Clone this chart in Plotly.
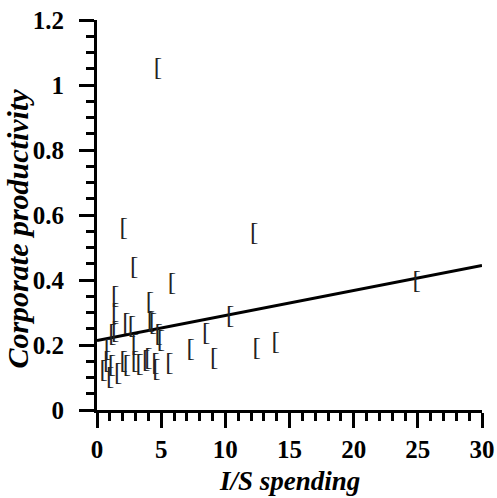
import plotly.graph_objects as go

# I/S spending vs corporate productivity
spending = [0.52, 0.8, 0.85, 1.03, 1.17, 1.2, 1.42, 1.42, 1.42, 1.65,
            2.07, 2.07, 2.3, 2.33, 2.72, 2.9, 2.95, 2.95, 3.32, 3.84,
            4.0, 4.12, 4.2, 4.36, 4.55, 4.62, 4.75, 4.8, 4.98, 5.65,
            5.84, 7.3, 8.5, 9.13, 10.37, 12.24, 12.45, 13.93, 24.9]
productivity = [0.12, 0.15, 0.185, 0.098, 0.135, 0.233, 0.349, 0.297, 0.24, 0.112,
                0.559, 0.149, 0.264, 0.135, 0.257, 0.437, 0.2, 0.148, 0.139, 0.152,
                0.157, 0.33, 0.272, 0.266, 0.143, 0.124, 1.051, 0.233, 0.214, 0.141,
                0.387, 0.184, 0.235, 0.158, 0.288, 0.543, 0.19, 0.208, 0.395]

# fitted line end points
fit_x = [0, 30]
fit_y = [0.214, 0.445]

serif = "Liberation Serif, Times New Roman, serif"

fig = go.Figure()
fig.add_trace(go.Scatter(
    x=fit_x, y=fit_y, mode="lines",
    line={"color": "black", "width": 3},
    showlegend=False, hoverinfo="skip"))
fig.add_trace(go.Scatter(
    x=spending, y=productivity, mode="text",
    text=["["] * len(spending),
    textposition="middle center",
    textfont={"family": serif, "size": 25, "color": "#222222"},
    showlegend=False))

axis_common = dict(
    showgrid=False, zeroline=False, automargin=False,
    showline=True, linewidth=3, linecolor="black",
    ticks="outside", ticklen=15, tickwidth=3, tickcolor="black",
    tickfont={"family": serif, "size": 25, "color": "black", "weight": "bold"},
    ticklabeloverflow="allow",
)

fig.update_xaxes(range=[0, 30], tick0=0, dtick=5, ticklabelstandoff=0,
                 minor={"dtick": 1, "ticks": "outside", "ticklen": 8,
                        "tickwidth": 3, "tickcolor": "black"},
                 **axis_common)
fig.update_yaxes(range=[0, 1.2], tick0=0, dtick=0.2, ticklabelstandoff=10,
                 minor={"dtick": 0.05, "ticks": "outside", "ticklen": 8,
                        "tickwidth": 3, "tickcolor": "black"},
                 **axis_common)

title_font = {"family": serif, "size": 27, "color": "black",
              "weight": "bold", "style": "italic"}
fig.add_annotation(text="I/S spending", xref="paper", yref="paper",
                   x=0.5, y=-0.181, xanchor="center", yanchor="middle",
                   showarrow=False, font=title_font)
fig.add_annotation(text="Corporate productivity", xref="paper", yref="paper",
                   x=-0.207, y=0.466, xanchor="center", yanchor="middle",
                   textangle=-90, showarrow=False, borderpad=0,
                   font={**title_font, "size": 30})

fig.update_layout(
    width=497, height=498,
    margin={"l": 97, "r": 15, "t": 20, "b": 88, "pad": 0},
    paper_bgcolor="white", plot_bgcolor="white",
)

# drop the default 8px body margin so the figure fills the window
fig.write_html("out.html", config={"displayModeBar": False},
               post_script="document.body.style.margin='0';"
                           "document.body.style.overflow='hidden';")
